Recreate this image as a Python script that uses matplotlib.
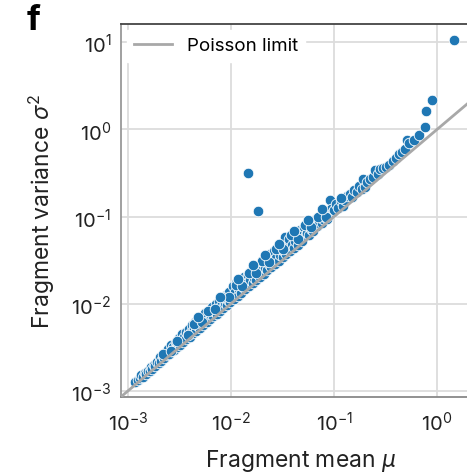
import matplotlib
matplotlib.use("Agg")
import matplotlib.pyplot as plt
import numpy as np

plt.rcParams['font.family'] = ['Inter', 'DejaVu Sans']
plt.rcParams['mathtext.fontset'] = 'custom'
plt.rcParams['mathtext.rm'] = 'Inter'
plt.rcParams['mathtext.it'] = 'Inter:italic'

mean_mu = [
    0.00118, 0.00125, 0.00132, 0.00135, 0.00140, 0.00146, 0.00150, 0.00157, 0.00162, 0.00168,
    0.00172, 0.00180, 0.00185, 0.00192, 0.00198, 0.00205, 0.00210, 0.00218, 0.00225, 0.00232,
    0.00238, 0.00245, 0.00252, 0.00260, 0.00266, 0.00275, 0.00282, 0.00290, 0.00298,
    0.00305, 0.00312, 0.00320, 0.00328, 0.00335, 0.00345, 0.00352, 0.00362, 0.00370, 0.00380,
    0.00390, 0.00398, 0.00410, 0.00420, 0.00430, 0.00440, 0.00452, 0.00462, 0.00475, 0.00488,
    0.00500, 0.00512, 0.00525, 0.00538, 0.00552, 0.00565, 0.00580, 0.00595, 0.00610, 0.00625,
    0.00640, 0.00658, 0.00675, 0.00692, 0.00710, 0.00728, 0.00745, 0.00765, 0.00785, 0.00805,
    0.00825, 0.00845, 0.00868, 0.00890, 0.00912, 0.00935, 0.00960, 0.00985,
    0.0101, 0.0104, 0.0107, 0.0110, 0.0113, 0.0116, 0.0119, 0.0122, 0.0126, 0.0129,
    0.0133, 0.0137, 0.0141, 0.0145, 0.0149, 0.0153, 0.0157, 0.0162, 0.0166, 0.0171,
    0.0176, 0.0181, 0.0186, 0.0191, 0.0196, 0.0202, 0.0208, 0.0214, 0.0220, 0.0226,
    0.0232, 0.0239, 0.0246, 0.0253, 0.0260, 0.0267, 0.0275, 0.0283, 0.0291, 0.0300,
    0.0308, 0.0317, 0.0326, 0.0335, 0.0345, 0.0355, 0.0365, 0.0376, 0.0387, 0.0398,
    0.0410, 0.0421, 0.0433, 0.0446, 0.0459, 0.0472, 0.0486, 0.0500, 0.0514, 0.0529,
    0.0544, 0.0560, 0.0576, 0.0593, 0.0610, 0.0628, 0.0646, 0.0665, 0.0690, 0.0715,
    0.0740, 0.0765, 0.0790, 0.0815, 0.0850, 0.0880, 0.0910, 0.0930, 0.0980, 0.1010,
    0.105, 0.110, 0.116, 0.123, 0.128, 0.135, 0.143, 0.150, 0.158, 0.168,
    0.176, 0.185, 0.193, 0.200, 0.210, 0.225, 0.238, 0.250, 0.265, 0.280,
    0.300, 0.320, 0.344, 0.370, 0.400, 0.425, 0.454, 0.490, 0.515, 0.540,
    0.600, 0.664, 0.770, 0.780, 0.888, 1.470,
    0.0145, 0.0184,
    0.00220, 0.00300, 0.00440, 0.00600, 0.00820, 0.0112, 0.0148, 0.0200, 0.0272, 0.0380,
    0.0520, 0.0700, 0.00260, 0.00380, 0.00520, 0.00700, 0.00950, 0.0128, 0.0175, 0.0235,
    0.0320, 0.0450, 0.0600, 0.0830,
    0.00480, 0.00780, 0.0118, 0.0165, 0.0215, 0.0290, 0.0410, 0.0560, 0.0760, 0.118,
]

var_sigma2 = [
    0.00128, 0.00133, 0.00140, 0.00152, 0.00146, 0.00162, 0.00155, 0.00170, 0.00168, 0.00190,
    0.00180, 0.00200, 0.00192, 0.00215, 0.00208, 0.00245, 0.00222, 0.00250, 0.00236, 0.00280,
    0.00258, 0.00300, 0.00268, 0.00340, 0.00285, 0.00320, 0.00296, 0.00365, 0.00318,
    0.00345, 0.00410, 0.00340, 0.00380, 0.00445, 0.00368, 0.00420, 0.00480, 0.00392, 0.00450,
    0.00520, 0.00420, 0.00480, 0.00570, 0.00458, 0.00520, 0.00610, 0.00490, 0.00560, 0.00660,
    0.00530, 0.00610, 0.00720, 0.00570, 0.00650, 0.00790, 0.00615, 0.00700, 0.00830, 0.00665,
    0.00750, 0.00920, 0.00715, 0.00800, 0.01000, 0.00770, 0.00870, 0.01080, 0.00835, 0.00940,
    0.01150, 0.00900, 0.01010, 0.01260, 0.00970, 0.01100, 0.01380, 0.01050,
    0.0118, 0.0160, 0.0113, 0.0135, 0.0172, 0.0124, 0.0146, 0.0182, 0.0134, 0.0158,
    0.0205, 0.0146, 0.0170, 0.0215, 0.0159, 0.0185, 0.0240, 0.0172, 0.0200, 0.0262,
    0.0188, 0.0218, 0.0280, 0.0204, 0.0238, 0.0310, 0.0222, 0.0260, 0.0340, 0.0242,
    0.0285, 0.0370, 0.0263, 0.0310, 0.0400, 0.0287, 0.0335, 0.0440, 0.0312, 0.0365,
    0.0470, 0.0340, 0.0400, 0.0590, 0.0370, 0.0435, 0.0560, 0.0404, 0.0475, 0.0600,
    0.0440, 0.0520, 0.0650, 0.0478, 0.0560, 0.0700, 0.0520, 0.0610, 0.0760, 0.0620,
    0.0640, 0.0820, 0.0620, 0.0720, 0.0880, 0.0680, 0.0780, 0.0950, 0.0790, 0.0850,
    0.1040, 0.0840, 0.0940, 0.1110, 0.0950, 0.1050, 0.1540, 0.1220, 0.1130, 0.1200,
    0.138, 0.125, 0.152, 0.133, 0.156, 0.172, 0.184, 0.168, 0.200, 0.192,
    0.225, 0.207, 0.273, 0.220, 0.250, 0.270, 0.286, 0.340, 0.310, 0.350,
    0.360, 0.375, 0.396, 0.440, 0.473, 0.520, 0.555, 0.600, 0.750, 0.690,
    0.760, 0.860, 1.060, 1.640, 2.150, 10.5,
    0.320, 0.116,
    0.00265, 0.00375, 0.00590, 0.00830, 0.01180, 0.0165, 0.0225, 0.0310, 0.0430, 0.0620,
    0.0800, 0.1000, 0.00290, 0.00440, 0.00620, 0.00860, 0.01200, 0.0160, 0.0225, 0.0300,
    0.0420, 0.0560, 0.0750, 0.1000,
    0.00700, 0.01180, 0.0190, 0.0275, 0.0360, 0.0490, 0.0690, 0.0920, 0.1220, 0.165,
]

poisson_x = [10 ** -3.2, 10 ** 1.4]

fig = plt.figure(figsize=(4.67, 4.77), dpi=100)
ax = fig.add_axes([0.259, 0.1656, 0.771, 0.782])
ax.set_xscale('log')
ax.set_yscale('log')
ax.set_xlim(10 ** -3.068, 10 ** 0.427)
ax.set_ylim(10 ** -3.07, 10 ** 1.21)

ax.grid(True, color='#dcdcdc', lw=1.3, zorder=0)
ax.set_axisbelow(True)
ax.minorticks_off()

ax.scatter(mean_mu, var_sigma2, s=58, c='#1f77b4', edgecolors='white',
           linewidths=0.6, zorder=2)
ax.plot(poisson_x, poisson_x, color='#a8a8a8', lw=2, zorder=3, label='Poisson limit')

ax.set_xticks([1e-3, 1e-2, 1e-1, 1e0])
ax.set_yticks([1e-3, 1e-2, 1e-1, 1e0, 1e1])
ax.tick_params(axis='both', length=0, labelsize=14.5, pad=7, colors='#222222')
ax.tick_params(axis='x', pad=9)

ax.spines['right'].set_visible(False)
ax.spines['top'].set_color('#444444')
ax.spines['left'].set_color('#999999')
ax.spines['bottom'].set_color('#888888')
for s in ax.spines.values():
    s.set_linewidth(1.3)

ax.set_xlabel(r'Fragment mean $\mathit{\mu}$', fontsize=16.5, labelpad=10, color='#222222')
ax.set_ylabel(r'Fragment variance $\mathit{\sigma}^2$', fontsize=16.5, labelpad=10, color='#222222')

leg = ax.legend(loc='upper left', fontsize=13.5, frameon=True, framealpha=1,
                edgecolor='white', fancybox=False, handlelength=2.0,
                borderaxespad=0.3, bbox_to_anchor=(0.0, 1.0))

fig.text(0.058, 0.99, 'f', fontsize=25, fontweight='bold', va='top', ha='left')

fig.savefig('out.png', dpi=100)
